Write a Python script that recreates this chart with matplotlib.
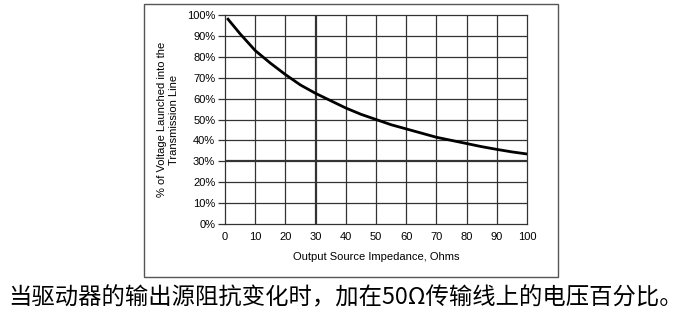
import matplotlib.pyplot as plt
from matplotlib.patches import Rectangle

impedance = [1, 5, 10, 15, 20, 25, 30, 35, 40, 45, 50, 55, 60, 65, 70, 75, 80, 85, 90, 95, 100]
voltage_pct = [98, 91, 83, 77, 71.5, 66.5, 62.5, 59, 55.5, 52.5, 50, 47.5, 45.5, 43.5, 41.5, 40, 38.5, 37, 35.7, 34.5, 33.5]
x_ticks = list(range(0, 101, 10))
y_ticks = list(range(0, 101, 10))
caption = "当驱动器的输出源阻抗变化时，加在50Ω传输线上的电压百分比。"

plt.rcParams['font.family'] = ['Liberation Sans', 'DejaVu Sans']

fig = plt.figure(figsize=(6.91, 3.2), dpi=100)
W, H = 691, 320
ax = fig.add_axes([225 / W, 1 - 224 / H, (527 - 225) / W, (224 - 15) / H])

# frame around the chart
fig.patches.append(Rectangle((144 / W, 1 - 277 / H), (558 - 144) / W, (277 - 4) / H,
                             transform=fig.transFigure, fill=False, edgecolor="#555555", lw=1.0))

ax.plot(impedance, voltage_pct, color="black", lw=2.0, zorder=3)
ax.set_xlim(0, 100)
ax.set_ylim(0, 100)
ax.set_xticks(x_ticks)
ax.set_yticks(y_ticks)
ax.set_yticklabels([f"{v}%" for v in y_ticks])
for v in x_ticks[1:-1]:
    ax.axvline(v, color="#333333", lw=1.6 if v == 30 else 0.9, zorder=1)
for v in y_ticks[1:-1]:
    ax.axhline(v, color="#333333", lw=1.6 if v == 30 else 0.9, zorder=1)
for s in ax.spines.values():
    s.set_color("#333333")
    s.set_linewidth(0.9)
ax.tick_params(axis="x", length=0, pad=6, labelsize=8)
ax.tick_params(axis="y", length=5, width=0.9, color="#333333", pad=2, labelsize=8)
ax.set_xlabel("Output Source Impedance, Ohms", fontsize=8, labelpad=7)
ax.set_ylabel("% of Voltage Launched into the\nTransmission Line", fontsize=8, labelpad=6)

fig.text(0.5, 1 - 298 / H, caption, ha="center", va="center", fontsize=16.8,
         family=['Noto Sans CJK SC', 'DejaVu Sans'])

fig.savefig("out.png", dpi=100)
